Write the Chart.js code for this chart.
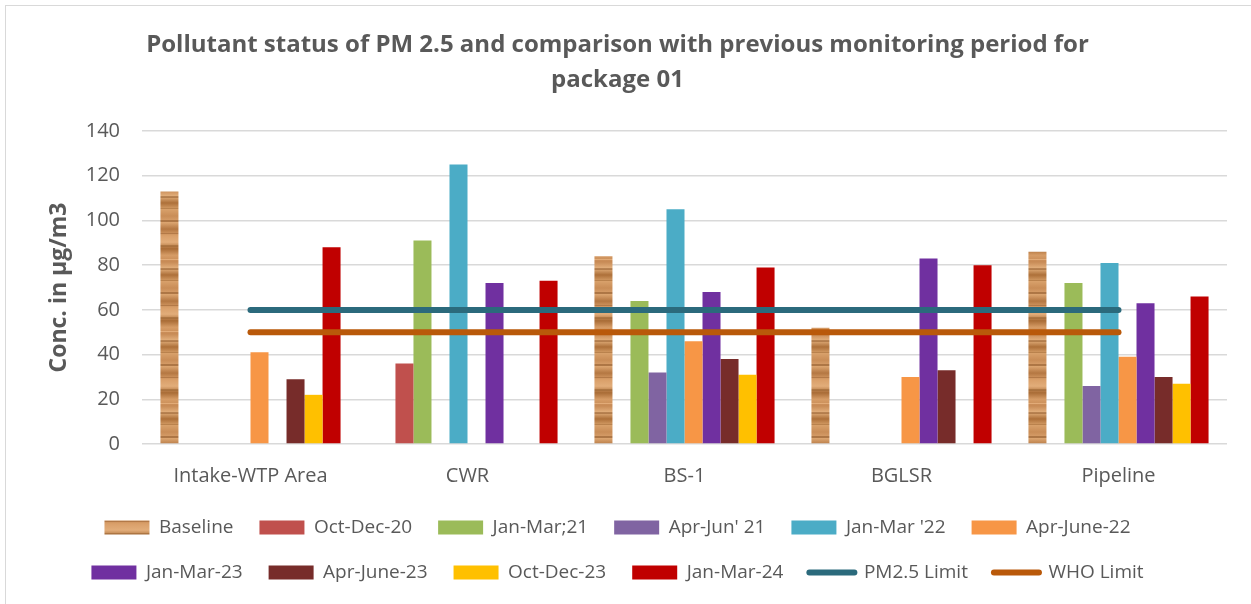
<!DOCTYPE html>
<html lang="en">
<head>
<meta charset="UTF-8">
<title>PM 2.5 package 01</title>
<script src="https://cdn.jsdelivr.net/npm/chart.js@4.4.1/dist/chart.umd.min.js"></script>
<style>
  html, body { margin: 0; padding: 0; background: #fff; }
  #wrap { position: relative; width: 1251px; height: 604px; }
  #frame { position: absolute; left: 5px; top: 5px; width: 1260px; height: 620px; border: 1px solid #d9d9d9; }
  #wrap canvas { position: relative; }
</style>
</head>
<body>
<div id="wrap"><div id="frame"></div><canvas id="pmChart"></canvas></div>
<script>
const sites = ['Intake-WTP Area', 'CWR', 'BS-1', 'BGLSR', 'Pipeline']

const periods = ['Baseline', 'Oct-Dec-20', 'Jan-Mar;21', "Apr-Jun' 21", "Jan-Mar '22",
                 'Apr-June-22', 'Jan-Mar-23', 'Apr-June-23', 'Oct-Dec-23', 'Jan-Mar-24']

const baseline   = [113, null, 84, 52, 86]
const octDec20   = [null, 36, null, null, null]
const janMar21   = [null, 91, 64, null, 72]
const aprJun21   = [null, null, 32, null, 26]
const janMar22   = [null, 125, 105, null, 81]
const aprJun22   = [41, null, 46, 30, 39]
const janMar23   = [null, 72, 68, 83, 63]
const aprJun23   = [29, null, 38, 33, 30]
const octDec23   = [22, null, 31, null, 27]
const janMar24   = [88, 73, 79, 80, 66]

const pm25Limit  = [60, 60, 60, 60, 60]
const whoLimit   = [50, 50, 50, 50, 50]

const yTicks = [0, 20, 40, 60, 80, 100, 120, 140]

// wood grain look for the baseline bars
function woodPattern() {
    const c = document.createElement('canvas')
    c.width = 8
    c.height = 72
    const g = c.getContext('2d')
    const grad = g.createLinearGradient(0, 0, 0, 72)
    const stops = ['#c98d57', '#dba46f', '#b47742', '#d99f69', '#e2ad7a', '#a96c36',
                   '#d69c66', '#c78a55', '#e3b07d', '#ad7039', '#d8a06a', '#c98d57']
    stops.forEach((col, i) => grad.addColorStop(i / (stops.length - 1), col))
    g.fillStyle = grad
    g.fillRect(0, 0, 8, 72)
    const grain = [[4, 2, 'rgba(140,85,40,0.55)'], [17, 1, 'rgba(140,85,40,0.4)'],
                   [29, 2, 'rgba(150,95,45,0.5)'], [43, 1, 'rgba(240,190,140,0.6)'],
                   [52, 2, 'rgba(140,85,40,0.5)'], [64, 1, 'rgba(150,95,45,0.4)']]
    grain.forEach(([y, h, col]) => { g.fillStyle = col; g.fillRect(0, y, 8, h) })
    return g.createPattern(c, 'repeat')
}

const barColors = [woodPattern(), '#c0504d', '#9bbb59', '#8064a2', '#4bacc6',
                   '#f79646', '#7030a0', '#772c2a', '#ffc000', '#c00000']
const barSeries = [baseline, octDec20, janMar21, aprJun21, janMar22,
                   aprJun22, janMar23, aprJun23, octDec23, janMar24]

const datasets = barSeries.map((vals, i) => ({
    type: 'bar',
    label: periods[i],
    data: vals,
    backgroundColor: barColors[i],
    borderWidth: 0,
    categoryPercentage: 0.83,
    barPercentage: 1.0,
    order: 2
}))

datasets.push({
    type: 'line', label: 'PM2.5 Limit', data: pm25Limit,
    borderColor: '#2b6a7c', backgroundColor: '#2b6a7c', borderWidth: 6,
    borderCapStyle: 'round', pointRadius: 0, order: 1
})
datasets.push({
    type: 'line', label: 'WHO Limit', data: whoLimit,
    borderColor: '#b9590a', backgroundColor: '#b9590a', borderWidth: 6,
    borderCapStyle: 'round', pointRadius: 0, order: 0
})

const textGrey = '#595959'
Chart.defaults.font.family = '"Open Sans", "DejaVu Sans", sans-serif'

new Chart(document.getElementById('pmChart'), {
    data: { labels: sites, datasets: datasets },
    options: {
        responsive: true,
        maintainAspectRatio: false,
        animation: false,
        layout: { padding: { left: 8, right: 24, top: 0, bottom: 12 } },
        plugins: {
            title: {
                display: true,
                text: ['Pollutant status of PM 2.5 and comparison with previous monitoring period for', 'package 01'],
                color: textGrey,
                font: { size: 24, weight: 'bold', lineHeight: 1.46 },
                padding: { top: 28, bottom: 33 }
            },
            legend: {
                position: 'bottom',
                labels: {
                    usePointStyle: true,
                    pointStyleWidth: 45,
                    boxHeight: 14,
                    padding: 26,
                    color: textGrey,
                    font: { size: 19 },
                    sort: (a, b) => a.datasetIndex - b.datasetIndex,
                    generateLabels: chart => Chart.defaults.plugins.legend.labels.generateLabels(chart).map(item => {
                        const ds = chart.data.datasets[item.datasetIndex]
                        if (ds.type === 'bar') {
                            item.pointStyle = 'rect'
                            item.lineWidth = 0
                        } else {
                            item.pointStyle = 'line'
                            item.lineWidth = 6
                            item.lineCap = 'round'
                        }
                        return item
                    })
                }
            },
            tooltip: { enabled: false }
        },
        scales: {
            x: {
                afterFit: s => { s.height = 48 },
                grid: { display: false, drawTicks: false },
                border: { display: false },
                ticks: { color: textGrey, font: { size: 20 }, padding: 20 }
            },
            y: {
                min: 0,
                max: 140,
                afterBuildTicks: s => { s.ticks = yTicks.map(v => ({ value: v })) },
                afterFit: s => { s.width = 134 },
                grid: { color: '#d9d9d9', lineWidth: 1.5, drawTicks: false },
                border: { display: false },
                ticks: { color: textGrey, font: { size: 20 }, padding: 22 },
                title: {
                    display: true,
                    text: 'Conc. in µg/m3',
                    color: textGrey,
                    font: { size: 23, weight: 'bold' },
                    padding: { top: 38, bottom: 0 }
                }
            }
        }
    }
})
</script>
</body>
</html>
